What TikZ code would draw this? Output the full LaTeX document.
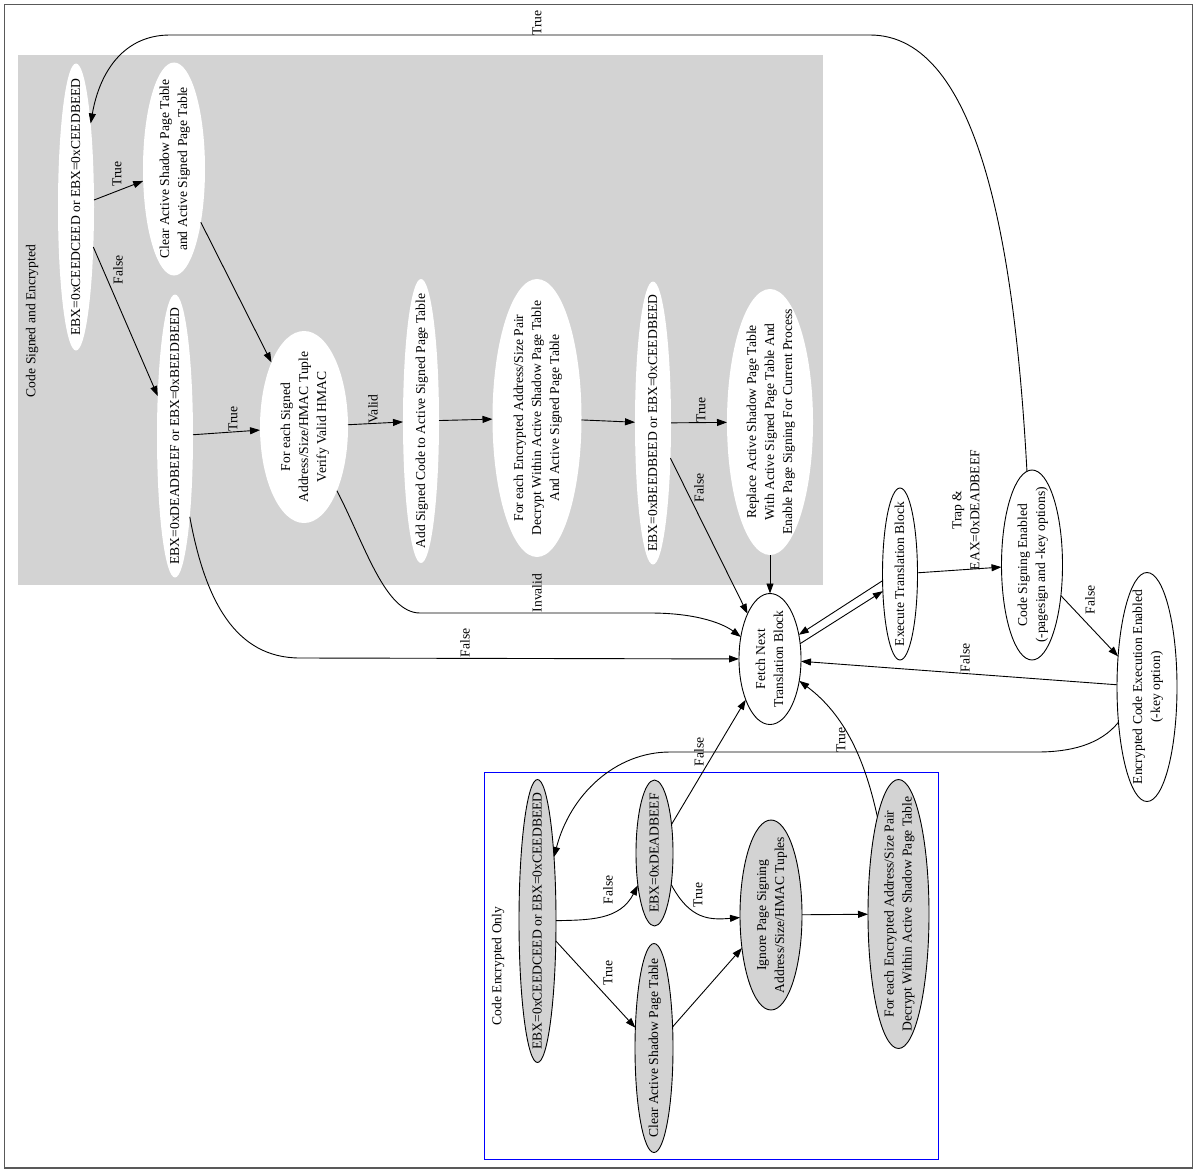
\documentclass[tikz,border=0pt]{standalone}
\usepackage{fontspec}
\setmainfont{Liberation Serif}
\usetikzlibrary{shapes.geometric,arrows.meta}
\definecolor{clgray}{HTML}{D3D3D3}
\newcommand{\nf}{\fontsize{13.6}{18}\selectfont}
\newcommand{\zt}[1]{\makebox[0pt]{\raisebox{-0.3em}[0pt][0pt]{\begin{tabular}{@{}c@{}}#1\end{tabular}}}}
\tikzset{
  base/.style={ellipse, rotate=90, inner sep=0pt, outer sep=0pt, font=\nf},
  sz/.style 2 args={minimum width=#1pt, minimum height=#2pt},
  wn/.style={base, fill=white, draw=none},
  bn/.style={base, fill=white, draw=black, line width=0.9pt},
  gn/.style={base, fill=clgray, draw=black, line width=0.9pt},
  arr/.style={-{Triangle[length=10pt,width=7pt]}, line width=0.9pt, black},
  elab/.style={rotate=90, inner sep=0pt, font=\nf},
  clab/.style={rotate=90, inner sep=0pt, font=\nf},
  frame/.style={draw=black!65, line width=1.3pt}
}
\begin{document}
\begin{tikzpicture}[x=1pt,y=-1pt]
\useasboundingbox (0,0) rectangle (1196,1172);
\draw[frame] (4.5,4.5) rectangle (1192.5,1168);
% clusters
\fill[clgray] (18,55) rectangle (823,585);
\node[clab] (c1lab) at (32,321) {Code Signed and Encrypted};
\draw[blue, line width=0.9pt] (484,772) rectangle (938,1159);
\node[clab] (c2lab) at (498,966) {Code Encrypted Only};
% cluster 1 nodes
\node[wn, sz={287}{36}] (A) at (76,207) {\zt{EBX=0xCEEDCEED or EBX=0xCEEDBEED}};
\node[wn, sz={213}{62}] (B) at (174,169) {\zt{Clear Active Shadow Page Table\\and Active Signed Page Table}};
\node[wn, sz={283}{36}] (C) at (175,436) {\zt{EBX=0xDEADBEEF or EBX=0xBEEDBEED}};
\node[wn, sz={192}{88}] (D) at (304,427) {\zt{For each Signed\\Address/Size/HMAC Tuple\\Verify Valid HMAC}};
\node[wn, sz={284}{36}] (E) at (421,421) {\zt{Add Signed Code to Active Signed Page Table}};
\node[wn, sz={278}{89}] (F) at (537,418) {\zt{For each Encrypted Address/Size Pair\\Decrypt Within Active Shadow Page Table\\And Active Signed Page Table}};
\node[wn, sz={283}{36}] (G) at (653,423) {\zt{EBX=0xBEEDBEED or EBX=0xCEEDBEED}};
\node[wn, sz={266}{86}] (H) at (770,422) {\zt{Replace Active Shadow Page Table\\With Active Signed Page Table And\\Enable Page Signing For Current Process}};
% outer nodes
\node[bn, sz={131}{62}] (I) at (770,659) {\zt{Fetch Next\\Translation Block}};
\node[bn, sz={172}{35}] (J) at (900,574) {\zt{Execute Translation Block}};
\node[bn, sz={190}{61}] (K) at (1032,565) {\zt{Code Signing Enabled\\(-pagesign and -key options)}};
\node[bn, sz={229}{60}] (L) at (1147,687) {\zt{Encrypted Code Execution Enabled\\(-key option)}};
% cluster 2 nodes
\node[gn, sz={283}{37}] (M) at (537.5,921) {\zt{EBX=0xCEEDCEED or EBX=0xCEEDBEED}};
\node[gn, sz={146}{37}] (N) at (654.5,853) {\zt{EBX=0xDEADBEEF}};
\node[gn, sz={209}{38}] (O) at (654,1048) {\zt{Clear Active Shadow Page Table}};
\node[gn, sz={190}{62}] (P) at (771,915) {\zt{Ignore Page Signing\\Address/Size/HMAC Tuples}};
\node[gn, sz={269}{61}] (Q) at (898.5,914) {\zt{For each Encrypted Address/Size Pair\\Decrypt Within Active Shadow Page Table}};
% edges
\draw[arr] (K) .. controls (1015,250) and (980,35) .. (870,35) -- (170,35) .. controls (125,35) and (100,70) .. (A);
\draw[arr] (A) -- (B);
\draw[arr] (A) -- (C);
\draw[arr] (B) -- (D);
\draw[arr] (C) -- (D);
\draw[arr] (D) -- (E);
\draw[arr] (E) -- (F);
\draw[arr] (F) -- (G);
\draw[arr] (G) -- (H);
\draw[arr] (H) -- (I);
\draw[arr] (G) -- (I);
\draw[arr] (D) .. controls (365,545) and (385,613) .. (420,613) -- (650,613) .. controls (700,613) and (725,625) .. (I);
\draw[arr] (C) .. controls (205,600) and (235,658) .. (300,658) -- (I);
\draw[arr] (I.-63.4) -- (J.135);
\draw[arr] (J.111.8) -- (I.-50);
\draw[arr] (J) -- (K);
\draw[arr] (K) -- (L);
\draw[arr] (L) -- (I);
\draw[arr] (L) .. controls (1100,745) and (1070,752) .. (1037,752) -- (670,752) .. controls (615,752) and (570,795) .. (M);
\draw[arr] (N) -- (I);
\draw[arr] (Q) .. controls (865,760) and (845,715) .. (I);
\draw[arr] (M) .. controls (590,920) and (620,920) .. (N);
\draw[arr] (M) -- (O);
\draw[arr] (N) .. controls (690,920) and (710,920) .. (P);
\draw[arr] (O) -- (P);
\draw[arr] (P) -- (Q);
% edge labels
\node[elab] (t0) at (537,23) {True};
\node[elab] (t1) at (117,174) {True};
\node[elab] (f1) at (118,270) {False};
\node[elab] (t2) at (233,419) {True};
\node[elab] (v1) at (373,409) {Valid};
\node[elab] (t3) at (701,410) {True};
\node[elab] (f2) at (699,488) {False};
\node[elab] (inv) at (537,593) {Invalid};
\node[elab] (f3) at (465,643) {False};
\node[elab, align=center] (trap) at (966,510) {Trap \&\\EAX=0xDEADBEEF};
\node[elab] (f4) at (1090,600) {False};
\node[elab] (f5) at (965,658) {False};
\node[elab] (f6) at (699,752) {False};
\node[elab] (t4) at (841,740) {True};
\node[elab] (f7) at (608,890) {False};
\node[elab] (t5) at (608,973) {True};
\node[elab] (t6) at (698,895) {True};
\end{tikzpicture}
\end{document}
